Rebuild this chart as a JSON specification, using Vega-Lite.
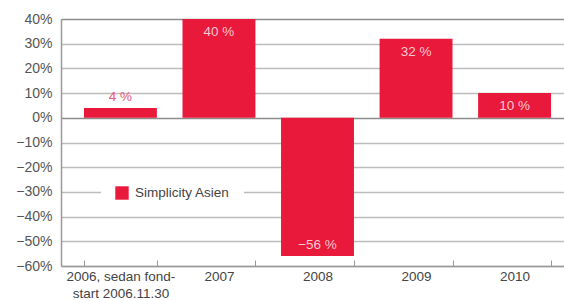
{
  "$schema": "https://vega.github.io/schema/vega-lite/v6.json",
  "width": 513,
  "height": 247,
  "autosize": "none",
  "padding": {"left": 61, "top": 19, "right": 0, "bottom": 34},
  "background": "white",
  "config": {
    "view": {"stroke": null},
    "font": "Liberation Sans"
  },
  "data": {
    "values": [
      {"year": "2006", "series": "Simplicity Asien", "value": 0.04, "label": "4 %"},
      {"year": "2007", "series": "Simplicity Asien", "value": 0.40, "label": "40 %"},
      {"year": "2008", "series": "Simplicity Asien", "value": -0.56, "label": "−56 %"},
      {"year": "2009", "series": "Simplicity Asien", "value": 0.32, "label": "32 %"},
      {"year": "2010", "series": "Simplicity Asien", "value": 0.10, "label": "10 %"}
    ]
  },
  "encoding": {
    "x": {
      "field": "year",
      "type": "nominal",
      "sort": null,
      "scale": {"paddingInner": 0.26, "paddingOuter": 0.233},
      "axis": {
        "title": null,
        "labelAngle": 0,
        "labelFontSize": 13.5,
        "labelColor": "#444",
        "labelPadding": 9,
        "labelLineHeight": 17,
        "labelExpr": "datum.label == '2006' ? ['2006, sedan fond-', 'start 2006.11.30'] : datum.label",
        "domainColor": "#999",
        "domainWidth": 1.5,
        "tickBand": "extent",
        "tickColor": "#999",
        "tickSize": -6,
        "tickWidth": 1
      }
    },
    "y": {
      "field": "value",
      "type": "quantitative",
      "scale": {"domain": [-0.6, 0.4], "nice": false},
      "axis": {
        "title": null,
        "format": ".0%",
        "values": [-0.6, -0.5, -0.4, -0.3, -0.2, -0.1, 0, 0.1, 0.2, 0.3, 0.4],
        "labelFontSize": 14,
        "labelColor": "#555",
        "labelPadding": 9,
        "ticks": false,
        "domainColor": "#999",
        "domainWidth": 1.5,
        "gridColor": {"condition": {"test": "datum.value === 0 || datum.value === 0.4", "value": "#8c8c8c"}, "value": "#bcbcbc"},
        "gridWidth": 1.5
      }
    }
  },
  "layer": [
    {
      "mark": {"type": "bar", "color": "#e8193a"},
      "encoding": {
        "color": {
          "field": "series",
          "type": "nominal",
          "scale": {"range": ["#e8193a"]},
          "legend": {
            "title": null,
            "orient": "none",
            "legendX": 40,
            "legendY": 153,
            "fillColor": "white",
            "padding": 14,
            "symbolType": "square",
            "symbolSize": 180,
            "symbolStrokeWidth": 0,
            "labelFontSize": 13.5,
            "labelColor": "#444",
            "labelOffset": 6
          }
        }
      }
    },
    {
      "transform": [{"filter": "datum.value > 0.05"}],
      "mark": {"type": "text", "baseline": "middle", "dy": 13, "fontSize": 13.5, "color": "#f9c8d1"},
      "encoding": {"text": {"field": "label"}}
    },
    {
      "transform": [{"filter": "datum.value >= 0 && datum.value <= 0.05"}],
      "mark": {"type": "text", "baseline": "middle", "dy": -11, "fontSize": 13.5, "color": "#ee5873"},
      "encoding": {"text": {"field": "label"}}
    },
    {
      "transform": [{"filter": "datum.value < 0"}],
      "mark": {"type": "text", "baseline": "middle", "dy": -11, "fontSize": 13.5, "color": "#f9c8d1"},
      "encoding": {"text": {"field": "label"}}
    }
  ]
}
